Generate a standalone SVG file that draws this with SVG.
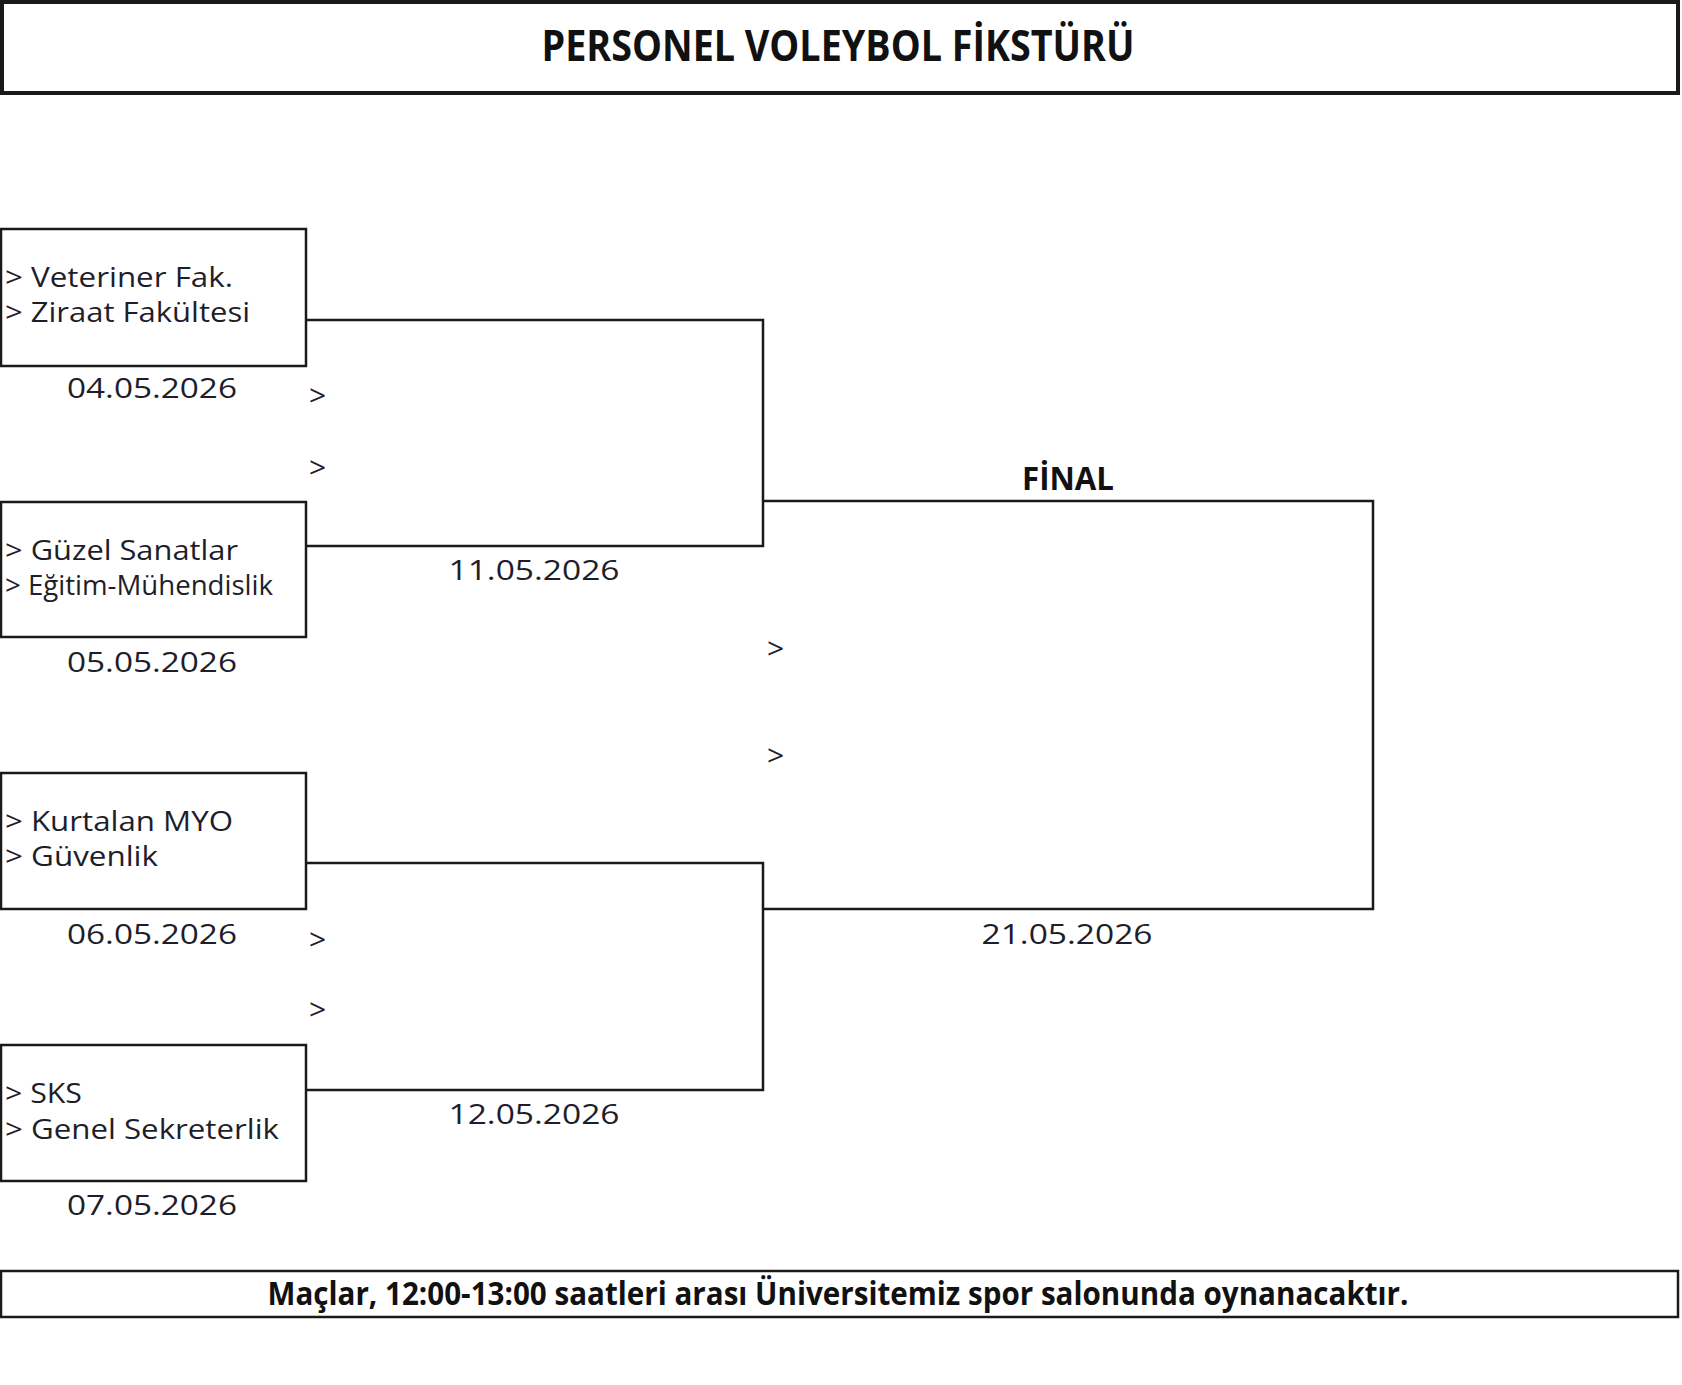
<svg xmlns="http://www.w3.org/2000/svg" width="1682" height="1385" viewBox="0 0 1682 1385">
<style>
.box{fill:#fff;stroke:#1a1a1a;stroke-width:2.5}
.frame{fill:#fff;stroke:#1a1a1a;stroke-width:4}
.ln{fill:none;stroke:#1a1a1a;stroke-width:2.5}
.t{font-family:"Open Sans","Noto Sans",sans-serif;fill:#1e1e2a;font-size:27px}
.d{font-family:"Open Sans","Noto Sans",sans-serif;fill:#1e1e2a;font-size:28px;text-anchor:middle}
.b{font-family:"Open Sans","Noto Sans",sans-serif;fill:#111;font-weight:bold}
.m{font-family:"Open Sans","Noto Sans",sans-serif;fill:#1e1e2a;font-size:30px}
</style>
<rect width="1682" height="1385" fill="#fff"/>
<g id="title">
<rect class="frame" x="2" y="2" width="1676" height="91"/>
<text class="b" x="838" y="61" font-size="43" text-anchor="middle" textLength="593" lengthAdjust="spacingAndGlyphs">PERSONEL VOLEYBOL FİKSTÜRÜ</text>
</g>
<g id="connectors">
<polyline class="ln" points="306,320 763,320 763,546 306,546"/>
<polyline class="ln" points="306,863 763,863 763,1090 306,1090"/>
<polyline class="ln" points="763,501 1373,501 1373,909 763,909"/>
</g>
<g id="match1">
<rect class="box" x="1" y="229" width="305" height="137"/>
<text class="t" x="5" y="287" textLength="228" lengthAdjust="spacingAndGlyphs">&gt; Veteriner Fak.</text>
<text class="t" x="5" y="322" textLength="245" lengthAdjust="spacingAndGlyphs">&gt; Ziraat Fakültesi</text>
<text class="d" x="152" y="398" textLength="170" lengthAdjust="spacingAndGlyphs">04.05.2026</text>
</g>
<g id="match2">
<rect class="box" x="1" y="502" width="305" height="135"/>
<text class="t" x="5" y="560" textLength="233" lengthAdjust="spacingAndGlyphs">&gt; Güzel Sanatlar</text>
<text class="t" x="5" y="595" font-size="24" textLength="268" lengthAdjust="spacingAndGlyphs">&gt; Eğitim-Mühendislik</text>
<text class="d" x="152" y="672" textLength="170" lengthAdjust="spacingAndGlyphs">05.05.2026</text>
</g>
<g id="match3">
<rect class="box" x="1" y="773" width="305" height="136"/>
<text class="t" x="5" y="831" textLength="228" lengthAdjust="spacingAndGlyphs">&gt; Kurtalan MYO</text>
<text class="t" x="5" y="866" textLength="153" lengthAdjust="spacingAndGlyphs">&gt; Güvenlik</text>
<text class="d" x="152" y="944" textLength="170" lengthAdjust="spacingAndGlyphs">06.05.2026</text>
</g>
<g id="match4">
<rect class="box" x="1" y="1045" width="305" height="136"/>
<text class="t" x="5" y="1103" textLength="77" lengthAdjust="spacingAndGlyphs">&gt; SKS</text>
<text class="t" x="5" y="1139" textLength="274" lengthAdjust="spacingAndGlyphs">&gt; Genel Sekreterlik</text>
<text class="d" x="152" y="1215" textLength="170" lengthAdjust="spacingAndGlyphs">07.05.2026</text>
</g>
<g id="semi1">
<text class="m" x="309" y="406">&gt;</text>
<text class="m" x="309" y="478">&gt;</text>
<text class="d" x="534" y="580" textLength="171" lengthAdjust="spacingAndGlyphs">11.05.2026</text>
</g>
<g id="semi2">
<text class="m" x="309" y="950">&gt;</text>
<text class="m" x="309" y="1020">&gt;</text>
<text class="d" x="534" y="1124" textLength="171" lengthAdjust="spacingAndGlyphs">12.05.2026</text>
</g>
<g id="final">
<text class="b" x="1068" y="490" font-size="33" text-anchor="middle" textLength="92" lengthAdjust="spacingAndGlyphs">FİNAL</text>
<text class="m" x="767" y="659">&gt;</text>
<text class="m" x="767" y="766">&gt;</text>
<text class="d" x="1067" y="944" textLength="171" lengthAdjust="spacingAndGlyphs">21.05.2026</text>
</g>
<g id="footer">
<rect class="box" x="1" y="1271" width="1677" height="46"/>
<text class="b" x="838" y="1305" font-size="32" text-anchor="middle" textLength="1141" lengthAdjust="spacingAndGlyphs">Maçlar, 12:00-13:00 saatleri arası Üniversitemiz spor salonunda oynanacaktır.</text>
</g>
</svg>
